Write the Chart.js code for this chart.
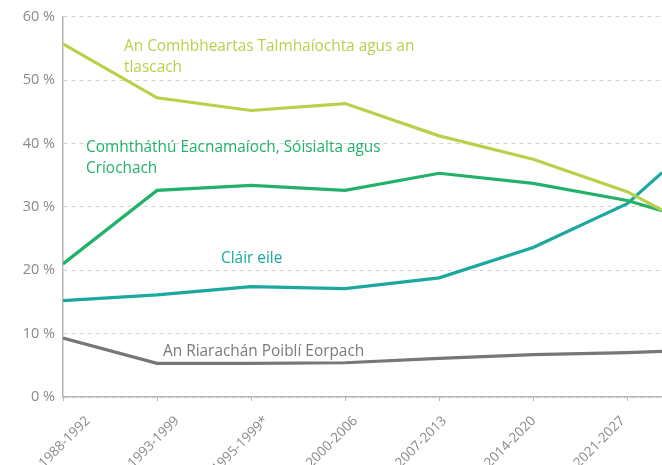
<!DOCTYPE html>
<html>
<head>
<meta charset="utf-8">
<script src="https://cdn.jsdelivr.net/npm/chart.js@4.4.0/dist/chart.umd.min.js"></script>
<style>
  html, body { margin: 0; padding: 0; background: #fff; }
  #wrap { width: 662px; height: 465px; }
</style>
</head>
<body>
<div id="wrap"><canvas id="chart"></canvas></div>
<script>
// periods on the x axis
const periods = ['1988-1992', '1993-1999', '1995-1999*', '2000-2006', '2007-2013', '2014-2020', '2021-2027'];
// x position of every point (last one is where the picture is cut at the right edge)
const periodX = [0, 1, 2, 3, 4, 5, 6, 6.37];

// share of the budget, %
const agriculture     = [55.7, 47.2, 45.2, 46.3, 41.2, 37.5, 32.4, 29.5];
const cohesion        = [21.0, 32.6, 33.4, 32.6, 35.3, 33.7, 31.0, 29.4];
const otherProgrammes = [15.2, 16.1, 17.4, 17.1, 18.8, 23.6, 30.5, 35.4];
const administration  = [9.3, 5.3, 5.3, 5.4, 6.1, 6.7, 7.0, 7.2];

const yTicks = [0, 10, 20, 30, 40, 50, 60];

// text written next to each line
const agricultureName     = ['An Comhbheartas Talmhaíochta agus an', 'tlascach'];
const cohesionName        = ['Comhtháthú Eacnamaíoch, Sóisialta agus', 'Críochach'];
const otherProgrammesName = ['Cláir eile'];
const administrationName  = ['An Riarachán Poiblí Eorpach'];

const FONT = "'Open Sans', sans-serif";

function points(values) {
    return values.map((v, i) => ({ x: periodX[i], y: v }));
}

function series(name, values, color) {
    return {
        label: name.join(' '),
        data: points(values),
        borderColor: color,
        backgroundColor: color,
        borderWidth: 3.2,
        pointRadius: 0,
        tension: 0,
        fill: false
    };
}

// writes the series names inside the plot
const lineNames = {
    id: 'lineNames',
    afterDatasetsDraw(chart) {
        const ctx = chart.ctx;
        const items = [
            { text: agricultureName, color: '#b7d24a', px: 124, py: 47 },
            { text: cohesionName, color: '#22b16a', px: 86, py: 148 },
            { text: otherProgrammesName, color: '#1aa89f', px: 221, py: 259 },
            { text: administrationName, color: '#7a7a7a', px: 163, py: 352 }
        ];
        ctx.save();
        ctx.font = '15.4px ' + FONT;
        ctx.textAlign = 'left';
        ctx.textBaseline = 'middle';
        items.forEach(it => {
            ctx.fillStyle = it.color;
            it.text.forEach((line, i) => ctx.fillText(line, it.px, it.py + i * 21));
        });
        ctx.restore();
    }
};

new Chart(document.getElementById('chart'), {
    type: 'line',
    data: {
        datasets: [
            series(agricultureName, agriculture, '#b7d24a'),
            series(cohesionName, cohesion, '#22b16a'),
            series(otherProgrammesName, otherProgrammes, '#1aa89f'),
            series(administrationName, administration, '#777777')
        ]
    },
    options: {
        responsive: true,
        maintainAspectRatio: false,
        animation: false,
        layout: { padding: { top: 11, left: 0, right: 0, bottom: 0 } },
        plugins: {
            legend: { display: false },
            tooltip: { enabled: false }
        },
        scales: {
            x: {
                type: 'linear',
                min: 0,
                max: periodX[periodX.length - 1],
                weight: 0,
                ticks: { display: false, stepSize: 1, includeBounds: false },
                grid: { drawOnChartArea: false, drawTicks: true, tickLength: 4, color: '#b5b5b5' },
                border: { color: '#b5b5b5', width: 1.5 }
            },
            xl: {
                type: 'linear',
                position: 'bottom',
                min: -0.28,
                max: 6.44,
                weight: 1,
                afterBuildTicks: scale => { scale.ticks = periods.map((p, i) => ({ value: i })); },
                ticks: {
                    autoSkip: false,
                    minRotation: 45,
                    maxRotation: 45,
                    padding: 4,
                    color: '#8a8a8a',
                    font: { family: FONT, size: 13.5 },
                    callback: (v, i) => periods[i]
                },
                grid: { display: false },
                border: { display: false },
                afterFit: scale => { scale.height = 64; }
            },
            y: {
                min: 0,
                max: 60,
                afterBuildTicks: scale => { scale.ticks = yTicks.map(v => ({ value: v })); },
                afterFit: scale => { scale.width = 63; },
                ticks: {
                    padding: 8,
                    color: '#8a8a8a',
                    font: { family: FONT, size: 14.5 },
                    callback: v => v + ' %'
                },
                grid: { drawTicks: false, color: '#d4d4d4', lineWidth: 1 },
                border: { color: '#b5b5b5', width: 1.5, dash: [4, 4] }
            }
        }
    },
    plugins: [lineNames]
});
</script>
</body>
</html>
